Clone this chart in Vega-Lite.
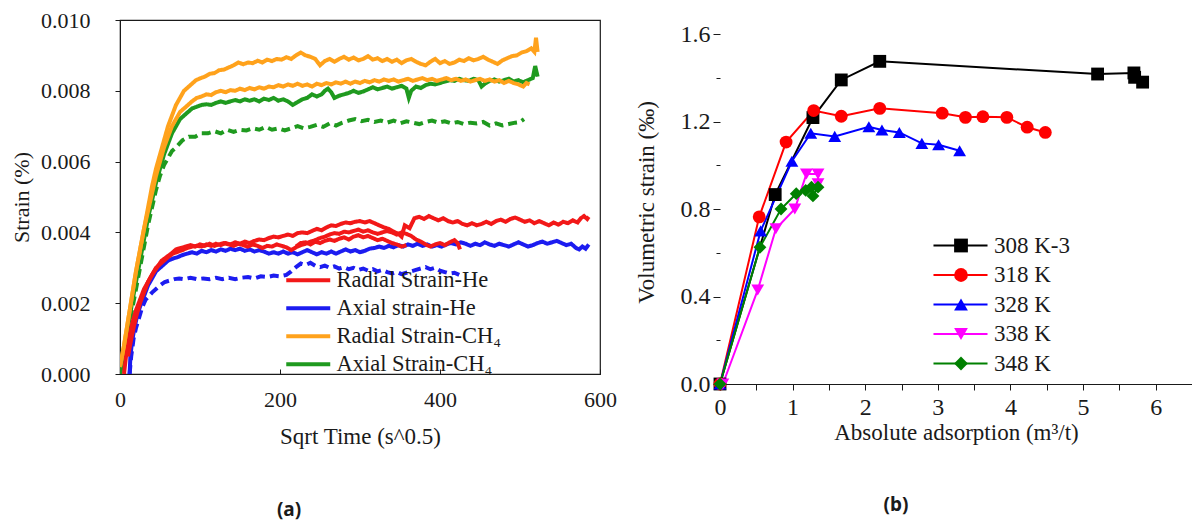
{
"$schema":"https://vega.github.io/schema/vega-lite/v6.json",
"background":"white",
"padding":{"left":9,"top":8,"right":0,"bottom":20},
"bounds":"flush",
"spacing":120,
"config":{"font":"Liberation Serif","axis":{"labelFont":"Liberation Serif","titleFont":"Liberation Serif","labelColor":"#1a1a1a","titleColor":"#1a1a1a","titleFontWeight":"normal","domainColor":"#1a1a1a","tickColor":"#1a1a1a","grid":false,"labelOverlap":false,"labelFlush":false},"legend":{"labelFont":"Liberation Serif","labelColor":"#1a1a1a"}},
"resolve":{"scale":{"color":"independent","shape":"independent","strokeDash":"independent"},"legend":{"color":"independent","shape":"independent"}},
"hconcat":[
{
"width":480,"height":354,
"view":{"stroke":"#1a1a1a","strokeWidth":1.2},
"title":{"text":"(a)","orient":"bottom","anchor":"middle","frame":"group","dx":-71,"offset":53,"font":"Noto Sans","fontWeight":"bold","fontSize":19,"color":"#1a1a1a"},
"data":{"values":[
{"c":"B2","x":12,"y":0},{"c":"B2","x":14,"y":0.0005},{"c":"B2","x":17,"y":0.001},{"c":"B2","x":20,"y":0.0013},{"c":"B2","x":24,"y":0.0016},{"c":"B2","x":28,"y":0.0019},{"c":"B2","x":32,"y":0.0021},{"c":"B2","x":36,"y":0.0022},{"c":"B2","x":40,"y":0.0023},{"c":"B2","x":45,"y":0.0024},{"c":"B2","x":50,"y":0.0025},{"c":"B2","x":56,"y":0.0026},{"c":"B2","x":62,"y":0.00264},{"c":"B2","x":68,"y":0.00268},{"c":"B2","x":74,"y":0.0027},{"c":"B2","x":80,"y":0.00268},{"c":"B2","x":88,"y":0.00272},{"c":"B2","x":96,"y":0.00268},{"c":"B2","x":104,"y":0.0027},{"c":"B2","x":112,"y":0.00268},{"c":"B2","x":120,"y":0.00272},{"c":"B2","x":128,"y":0.00268},{"c":"B2","x":136,"y":0.00272},{"c":"B2","x":144,"y":0.00268},{"c":"B2","x":152,"y":0.00272},{"c":"B2","x":160,"y":0.00274},{"c":"B2","x":168,"y":0.0027},{"c":"B2","x":176,"y":0.00276},{"c":"B2","x":184,"y":0.00274},{"c":"B2","x":192,"y":0.00278},{"c":"B2","x":200,"y":0.00276},{"c":"B2","x":208,"y":0.0028},{"c":"B2","x":214,"y":0.0029},{"c":"B2","x":220,"y":0.00302},{"c":"B2","x":226,"y":0.00312},{"c":"B2","x":232,"y":0.00308},{"c":"B2","x":238,"y":0.00314},{"c":"B2","x":244,"y":0.00306},{"c":"B2","x":250,"y":0.00302},{"c":"B2","x":256,"y":0.00306},{"c":"B2","x":262,"y":0.003},{"c":"B2","x":268,"y":0.00304},{"c":"B2","x":274,"y":0.00298},{"c":"B2","x":280,"y":0.00302},{"c":"B2","x":286,"y":0.00296},{"c":"B2","x":292,"y":0.003},{"c":"B2","x":298,"y":0.00294},{"c":"B2","x":304,"y":0.00298},{"c":"B2","x":310,"y":0.00292},{"c":"B2","x":316,"y":0.00296},{"c":"B2","x":322,"y":0.0029},{"c":"B2","x":328,"y":0.00294},{"c":"B2","x":334,"y":0.00288},{"c":"B2","x":340,"y":0.00284},{"c":"B2","x":346,"y":0.00288},{"c":"B2","x":352,"y":0.00282},{"c":"B2","x":358,"y":0.00286},{"c":"B2","x":364,"y":0.0029},{"c":"B2","x":370,"y":0.00294},{"c":"B2","x":376,"y":0.00298},{"c":"B2","x":382,"y":0.00302},{"c":"B2","x":388,"y":0.00296},{"c":"B2","x":394,"y":0.003},{"c":"B2","x":400,"y":0.00292},{"c":"B2","x":406,"y":0.00288},{"c":"B2","x":412,"y":0.00284},{"c":"B2","x":418,"y":0.00286},{"c":"B2","x":424,"y":0.0028},
{"c":"B1","x":12,"y":0},{"c":"B1","x":13,"y":0.0005},{"c":"B1","x":15,"y":0.0009},{"c":"B1","x":18,"y":0.0013},{"c":"B1","x":21,"y":0.0016},{"c":"B1","x":25,"y":0.0019},{"c":"B1","x":30,"y":0.0022},{"c":"B1","x":35,"y":0.0025},{"c":"B1","x":40,"y":0.0027},{"c":"B1","x":45,"y":0.0029},{"c":"B1","x":50,"y":0.003},{"c":"B1","x":55,"y":0.0031},{"c":"B1","x":60,"y":0.0032},{"c":"B1","x":66,"y":0.00326},{"c":"B1","x":72,"y":0.0033},{"c":"B1","x":78,"y":0.00336},{"c":"B1","x":84,"y":0.0034},{"c":"B1","x":90,"y":0.00344},{"c":"B1","x":96,"y":0.0034},{"c":"B1","x":102,"y":0.00348},{"c":"B1","x":108,"y":0.00344},{"c":"B1","x":114,"y":0.0035},{"c":"B1","x":120,"y":0.00346},{"c":"B1","x":126,"y":0.00352},{"c":"B1","x":132,"y":0.00348},{"c":"B1","x":138,"y":0.00354},{"c":"B1","x":144,"y":0.0035},{"c":"B1","x":150,"y":0.00354},{"c":"B1","x":156,"y":0.00348},{"c":"B1","x":162,"y":0.00352},{"c":"B1","x":168,"y":0.00346},{"c":"B1","x":174,"y":0.0035},{"c":"B1","x":180,"y":0.00346},{"c":"B1","x":186,"y":0.0034},{"c":"B1","x":192,"y":0.00344},{"c":"B1","x":198,"y":0.0034},{"c":"B1","x":204,"y":0.00346},{"c":"B1","x":210,"y":0.0034},{"c":"B1","x":216,"y":0.00344},{"c":"B1","x":222,"y":0.00338},{"c":"B1","x":228,"y":0.00344},{"c":"B1","x":234,"y":0.0035},{"c":"B1","x":240,"y":0.00344},{"c":"B1","x":246,"y":0.00338},{"c":"B1","x":252,"y":0.00344},{"c":"B1","x":258,"y":0.0034},{"c":"B1","x":264,"y":0.00346},{"c":"B1","x":270,"y":0.0034},{"c":"B1","x":276,"y":0.00346},{"c":"B1","x":282,"y":0.00352},{"c":"B1","x":288,"y":0.00346},{"c":"B1","x":294,"y":0.0035},{"c":"B1","x":300,"y":0.00344},{"c":"B1","x":306,"y":0.00348},{"c":"B1","x":312,"y":0.00354},{"c":"B1","x":318,"y":0.00356},{"c":"B1","x":324,"y":0.0036},{"c":"B1","x":330,"y":0.00356},{"c":"B1","x":336,"y":0.00362},{"c":"B1","x":342,"y":0.00358},{"c":"B1","x":348,"y":0.00364},{"c":"B1","x":354,"y":0.0036},{"c":"B1","x":360,"y":0.00366},{"c":"B1","x":366,"y":0.00362},{"c":"B1","x":372,"y":0.00368},{"c":"B1","x":378,"y":0.00362},{"c":"B1","x":384,"y":0.00366},{"c":"B1","x":390,"y":0.0036},{"c":"B1","x":396,"y":0.00364},{"c":"B1","x":402,"y":0.0036},{"c":"B1","x":408,"y":0.00366},{"c":"B1","x":414,"y":0.0037},{"c":"B1","x":420,"y":0.00366},{"c":"B1","x":426,"y":0.00372},{"c":"B1","x":432,"y":0.00368},{"c":"B1","x":438,"y":0.00362},{"c":"B1","x":444,"y":0.00368},{"c":"B1","x":450,"y":0.00364},{"c":"B1","x":456,"y":0.00372},{"c":"B1","x":462,"y":0.00366},{"c":"B1","x":468,"y":0.00362},{"c":"B1","x":474,"y":0.00368},{"c":"B1","x":480,"y":0.00364},{"c":"B1","x":486,"y":0.0036},{"c":"B1","x":492,"y":0.00366},{"c":"B1","x":498,"y":0.00372},{"c":"B1","x":504,"y":0.00366},{"c":"B1","x":510,"y":0.0036},{"c":"B1","x":516,"y":0.00364},{"c":"B1","x":522,"y":0.0037},{"c":"B1","x":528,"y":0.00374},{"c":"B1","x":534,"y":0.00368},{"c":"B1","x":540,"y":0.00372},{"c":"B1","x":546,"y":0.00376},{"c":"B1","x":552,"y":0.0037},{"c":"B1","x":558,"y":0.00364},{"c":"B1","x":564,"y":0.00368},{"c":"B1","x":570,"y":0.00356},{"c":"B1","x":574,"y":0.00352},{"c":"B1","x":578,"y":0.0036},{"c":"B1","x":582,"y":0.00354},{"c":"B1","x":586,"y":0.00366},
{"c":"G2","x":0,"y":0},{"c":"G2","x":5,"y":0.0006},{"c":"G2","x":10,"y":0.0012},{"c":"G2","x":15,"y":0.0018},{"c":"G2","x":20,"y":0.0024},{"c":"G2","x":25,"y":0.003},{"c":"G2","x":30,"y":0.0036},{"c":"G2","x":35,"y":0.0042},{"c":"G2","x":40,"y":0.0047},{"c":"G2","x":45,"y":0.0052},{"c":"G2","x":50,"y":0.0056},{"c":"G2","x":55,"y":0.0059},{"c":"G2","x":60,"y":0.0061},{"c":"G2","x":65,"y":0.0063},{"c":"G2","x":70,"y":0.0064},{"c":"G2","x":78,"y":0.0066},{"c":"G2","x":86,"y":0.0067},{"c":"G2","x":94,"y":0.0067},{"c":"G2","x":102,"y":0.0068},{"c":"G2","x":110,"y":0.0068},{"c":"G2","x":118,"y":0.00686},{"c":"G2","x":126,"y":0.0068},{"c":"G2","x":134,"y":0.0069},{"c":"G2","x":142,"y":0.00684},{"c":"G2","x":150,"y":0.0069},{"c":"G2","x":158,"y":0.00688},{"c":"G2","x":166,"y":0.00694},{"c":"G2","x":174,"y":0.0069},{"c":"G2","x":182,"y":0.00698},{"c":"G2","x":190,"y":0.0069},{"c":"G2","x":198,"y":0.00694},{"c":"G2","x":206,"y":0.00688},{"c":"G2","x":214,"y":0.00694},{"c":"G2","x":222,"y":0.007},{"c":"G2","x":230,"y":0.00694},{"c":"G2","x":238,"y":0.00698},{"c":"G2","x":246,"y":0.00704},{"c":"G2","x":254,"y":0.00698},{"c":"G2","x":262,"y":0.00708},{"c":"G2","x":270,"y":0.00702},{"c":"G2","x":278,"y":0.0071},{"c":"G2","x":286,"y":0.00716},{"c":"G2","x":294,"y":0.0072},{"c":"G2","x":302,"y":0.00714},{"c":"G2","x":310,"y":0.00718},{"c":"G2","x":318,"y":0.00712},{"c":"G2","x":326,"y":0.00716},{"c":"G2","x":334,"y":0.0071},{"c":"G2","x":342,"y":0.00716},{"c":"G2","x":350,"y":0.00708},{"c":"G2","x":358,"y":0.00714},{"c":"G2","x":366,"y":0.0071},{"c":"G2","x":374,"y":0.00706},{"c":"G2","x":382,"y":0.00712},{"c":"G2","x":390,"y":0.00716},{"c":"G2","x":398,"y":0.0071},{"c":"G2","x":406,"y":0.00714},{"c":"G2","x":414,"y":0.00708},{"c":"G2","x":422,"y":0.00712},{"c":"G2","x":430,"y":0.00706},{"c":"G2","x":438,"y":0.0071},{"c":"G2","x":446,"y":0.00708},{"c":"G2","x":454,"y":0.00712},{"c":"G2","x":462,"y":0.00702},{"c":"G2","x":470,"y":0.00708},{"c":"G2","x":478,"y":0.00702},{"c":"G2","x":486,"y":0.00706},{"c":"G2","x":494,"y":0.0071},{"c":"G2","x":500,"y":0.00712},{"c":"G2","x":505,"y":0.0072},
{"c":"G1","x":0,"y":0},{"c":"G1","x":5,"y":0.0006},{"c":"G1","x":10,"y":0.0013},{"c":"G1","x":15,"y":0.002},{"c":"G1","x":20,"y":0.0026},{"c":"G1","x":25,"y":0.0032},{"c":"G1","x":30,"y":0.0038},{"c":"G1","x":35,"y":0.0044},{"c":"G1","x":40,"y":0.0049},{"c":"G1","x":45,"y":0.0054},{"c":"G1","x":50,"y":0.0058},{"c":"G1","x":55,"y":0.0062},{"c":"G1","x":60,"y":0.0065},{"c":"G1","x":65,"y":0.0068},{"c":"G1","x":70,"y":0.007},{"c":"G1","x":75,"y":0.0072},{"c":"G1","x":80,"y":0.0073},{"c":"G1","x":85,"y":0.0074},{"c":"G1","x":90,"y":0.0075},{"c":"G1","x":96,"y":0.00755},{"c":"G1","x":102,"y":0.0076},{"c":"G1","x":108,"y":0.00762},{"c":"G1","x":114,"y":0.0076},{"c":"G1","x":120,"y":0.00766},{"c":"G1","x":126,"y":0.0077},{"c":"G1","x":132,"y":0.00766},{"c":"G1","x":138,"y":0.0077},{"c":"G1","x":144,"y":0.00774},{"c":"G1","x":150,"y":0.0077},{"c":"G1","x":156,"y":0.00776},{"c":"G1","x":162,"y":0.00772},{"c":"G1","x":168,"y":0.00776},{"c":"G1","x":174,"y":0.0077},{"c":"G1","x":180,"y":0.00778},{"c":"G1","x":186,"y":0.00774},{"c":"G1","x":192,"y":0.0078},{"c":"G1","x":198,"y":0.00772},{"c":"G1","x":204,"y":0.00776},{"c":"G1","x":210,"y":0.0077},{"c":"G1","x":216,"y":0.0076},{"c":"G1","x":222,"y":0.00768},{"c":"G1","x":228,"y":0.00776},{"c":"G1","x":234,"y":0.0078},{"c":"G1","x":240,"y":0.0079},{"c":"G1","x":246,"y":0.00784},{"c":"G1","x":252,"y":0.0079},{"c":"G1","x":256,"y":0.008},{"c":"G1","x":260,"y":0.00806},{"c":"G1","x":264,"y":0.00796},{"c":"G1","x":268,"y":0.0078},{"c":"G1","x":274,"y":0.00786},{"c":"G1","x":280,"y":0.0079},{"c":"G1","x":286,"y":0.00794},{"c":"G1","x":292,"y":0.008},{"c":"G1","x":298,"y":0.00794},{"c":"G1","x":304,"y":0.00798},{"c":"G1","x":310,"y":0.00804},{"c":"G1","x":316,"y":0.0081},{"c":"G1","x":322,"y":0.00804},{"c":"G1","x":328,"y":0.00808},{"c":"G1","x":334,"y":0.00812},{"c":"G1","x":340,"y":0.00806},{"c":"G1","x":346,"y":0.0081},{"c":"G1","x":352,"y":0.00814},{"c":"G1","x":358,"y":0.00806},{"c":"G1","x":361,"y":0.0078},{"c":"G1","x":364,"y":0.008},{"c":"G1","x":370,"y":0.00812},{"c":"G1","x":376,"y":0.00808},{"c":"G1","x":382,"y":0.00816},{"c":"G1","x":388,"y":0.0082},{"c":"G1","x":394,"y":0.00818},{"c":"G1","x":400,"y":0.00822},{"c":"G1","x":406,"y":0.00826},{"c":"G1","x":412,"y":0.0083},{"c":"G1","x":418,"y":0.00828},{"c":"G1","x":424,"y":0.00834},{"c":"G1","x":430,"y":0.0083},{"c":"G1","x":436,"y":0.00828},{"c":"G1","x":442,"y":0.00834},{"c":"G1","x":448,"y":0.0083},{"c":"G1","x":452,"y":0.00812},{"c":"G1","x":456,"y":0.0082},{"c":"G1","x":462,"y":0.00828},{"c":"G1","x":468,"y":0.00832},{"c":"G1","x":474,"y":0.00826},{"c":"G1","x":480,"y":0.0083},{"c":"G1","x":486,"y":0.00834},{"c":"G1","x":492,"y":0.00826},{"c":"G1","x":498,"y":0.0083},{"c":"G1","x":504,"y":0.00824},{"c":"G1","x":510,"y":0.0083},{"c":"G1","x":516,"y":0.00836},{"c":"G1","x":519,"y":0.0087},{"c":"G1","x":522,"y":0.0084},
{"c":"R3","x":220,"y":0.0036},{"c":"R3","x":226,"y":0.0037},{"c":"R3","x":232,"y":0.00372},{"c":"R3","x":238,"y":0.00366},{"c":"R3","x":244,"y":0.00374},{"c":"R3","x":250,"y":0.0037},{"c":"R3","x":256,"y":0.00376},{"c":"R3","x":262,"y":0.0038},{"c":"R3","x":268,"y":0.00376},{"c":"R3","x":274,"y":0.00382},{"c":"R3","x":280,"y":0.00386},{"c":"R3","x":286,"y":0.0038},{"c":"R3","x":292,"y":0.00388},{"c":"R3","x":298,"y":0.00392},{"c":"R3","x":304,"y":0.00386},{"c":"R3","x":310,"y":0.0039},{"c":"R3","x":316,"y":0.00384},{"c":"R3","x":322,"y":0.00378},{"c":"R3","x":328,"y":0.00382},{"c":"R3","x":334,"y":0.00376},{"c":"R3","x":340,"y":0.0037},{"c":"R3","x":346,"y":0.00366},{"c":"R3","x":352,"y":0.0036},{"c":"R3","x":358,"y":0.00364},
{"c":"R2","x":10,"y":0.0005},{"c":"R2","x":15,"y":0.0011},{"c":"R2","x":20,"y":0.0016},{"c":"R2","x":25,"y":0.002},{"c":"R2","x":30,"y":0.0023},{"c":"R2","x":35,"y":0.0026},{"c":"R2","x":40,"y":0.0028},{"c":"R2","x":46,"y":0.003},{"c":"R2","x":52,"y":0.0032},{"c":"R2","x":58,"y":0.0033},{"c":"R2","x":64,"y":0.0034},{"c":"R2","x":70,"y":0.00352},{"c":"R2","x":76,"y":0.00356},{"c":"R2","x":82,"y":0.0036},{"c":"R2","x":88,"y":0.00364},{"c":"R2","x":94,"y":0.0036},{"c":"R2","x":100,"y":0.00366},{"c":"R2","x":106,"y":0.00362},{"c":"R2","x":112,"y":0.00368},{"c":"R2","x":118,"y":0.00362},{"c":"R2","x":124,"y":0.00366},{"c":"R2","x":130,"y":0.0037},{"c":"R2","x":136,"y":0.00366},{"c":"R2","x":142,"y":0.00362},{"c":"R2","x":148,"y":0.00368},{"c":"R2","x":154,"y":0.00364},{"c":"R2","x":160,"y":0.0036},{"c":"R2","x":166,"y":0.00366},{"c":"R2","x":172,"y":0.00362},{"c":"R2","x":178,"y":0.00356},{"c":"R2","x":184,"y":0.00362},{"c":"R2","x":190,"y":0.0036},{"c":"R2","x":196,"y":0.00366},{"c":"R2","x":202,"y":0.00362},{"c":"R2","x":208,"y":0.00358},{"c":"R2","x":214,"y":0.0035},{"c":"R2","x":220,"y":0.00358},{"c":"R2","x":226,"y":0.00364},{"c":"R2","x":232,"y":0.00368},{"c":"R2","x":238,"y":0.00374},{"c":"R2","x":244,"y":0.00378},{"c":"R2","x":250,"y":0.00384},{"c":"R2","x":256,"y":0.00388},{"c":"R2","x":262,"y":0.00394},{"c":"R2","x":268,"y":0.00398},{"c":"R2","x":274,"y":0.00396},{"c":"R2","x":280,"y":0.00402},{"c":"R2","x":286,"y":0.004},{"c":"R2","x":292,"y":0.00404},{"c":"R2","x":298,"y":0.00408},{"c":"R2","x":304,"y":0.00402},{"c":"R2","x":310,"y":0.00406},{"c":"R2","x":316,"y":0.004},{"c":"R2","x":322,"y":0.00396},{"c":"R2","x":328,"y":0.004},{"c":"R2","x":334,"y":0.00404},{"c":"R2","x":340,"y":0.004},{"c":"R2","x":346,"y":0.00394},{"c":"R2","x":352,"y":0.004},{"c":"R2","x":358,"y":0.00396},{"c":"R2","x":364,"y":0.0039},{"c":"R2","x":370,"y":0.0038},{"c":"R2","x":376,"y":0.00374},{"c":"R2","x":382,"y":0.00366},{"c":"R2","x":388,"y":0.0036},{"c":"R2","x":394,"y":0.00366},{"c":"R2","x":400,"y":0.0037},{"c":"R2","x":406,"y":0.00364},{"c":"R2","x":412,"y":0.00372},{"c":"R2","x":418,"y":0.00378},{"c":"R2","x":422,"y":0.0037},{"c":"R2","x":425,"y":0.00352},
{"c":"R1","x":5,"y":0},{"c":"R1","x":8,"y":0.0006},{"c":"R1","x":12,"y":0.0011},{"c":"R1","x":16,"y":0.0015},{"c":"R1","x":20,"y":0.0018},{"c":"R1","x":25,"y":0.0021},{"c":"R1","x":30,"y":0.0024},{"c":"R1","x":35,"y":0.0026},{"c":"R1","x":40,"y":0.0028},{"c":"R1","x":45,"y":0.003},{"c":"R1","x":50,"y":0.0031},{"c":"R1","x":55,"y":0.0032},{"c":"R1","x":60,"y":0.0033},{"c":"R1","x":66,"y":0.0034},{"c":"R1","x":72,"y":0.00345},{"c":"R1","x":78,"y":0.0035},{"c":"R1","x":84,"y":0.00356},{"c":"R1","x":90,"y":0.0036},{"c":"R1","x":96,"y":0.00362},{"c":"R1","x":102,"y":0.0036},{"c":"R1","x":108,"y":0.00366},{"c":"R1","x":114,"y":0.00362},{"c":"R1","x":120,"y":0.00368},{"c":"R1","x":126,"y":0.00364},{"c":"R1","x":132,"y":0.0037},{"c":"R1","x":138,"y":0.00366},{"c":"R1","x":144,"y":0.00372},{"c":"R1","x":150,"y":0.00368},{"c":"R1","x":156,"y":0.00374},{"c":"R1","x":162,"y":0.0037},{"c":"R1","x":168,"y":0.00376},{"c":"R1","x":174,"y":0.0038},{"c":"R1","x":180,"y":0.00378},{"c":"R1","x":186,"y":0.00384},{"c":"R1","x":192,"y":0.00388},{"c":"R1","x":198,"y":0.00386},{"c":"R1","x":204,"y":0.0039},{"c":"R1","x":210,"y":0.00394},{"c":"R1","x":216,"y":0.0039},{"c":"R1","x":222,"y":0.00398},{"c":"R1","x":228,"y":0.004},{"c":"R1","x":234,"y":0.00398},{"c":"R1","x":240,"y":0.00404},{"c":"R1","x":246,"y":0.0041},{"c":"R1","x":252,"y":0.00406},{"c":"R1","x":258,"y":0.00414},{"c":"R1","x":264,"y":0.0042},{"c":"R1","x":270,"y":0.00418},{"c":"R1","x":276,"y":0.00424},{"c":"R1","x":282,"y":0.00428},{"c":"R1","x":288,"y":0.00426},{"c":"R1","x":294,"y":0.0043},{"c":"R1","x":300,"y":0.00432},{"c":"R1","x":306,"y":0.00428},{"c":"R1","x":312,"y":0.00432},{"c":"R1","x":318,"y":0.00426},{"c":"R1","x":324,"y":0.0042},{"c":"R1","x":330,"y":0.00414},{"c":"R1","x":336,"y":0.0041},{"c":"R1","x":342,"y":0.00402},{"c":"R1","x":348,"y":0.00396},{"c":"R1","x":352,"y":0.00388},{"c":"R1","x":356,"y":0.0042},{"c":"R1","x":362,"y":0.00412},{"c":"R1","x":368,"y":0.0044},{"c":"R1","x":374,"y":0.00444},{"c":"R1","x":380,"y":0.00438},{"c":"R1","x":386,"y":0.00446},{"c":"R1","x":392,"y":0.0044},{"c":"R1","x":398,"y":0.00434},{"c":"R1","x":404,"y":0.0044},{"c":"R1","x":410,"y":0.00432},{"c":"R1","x":416,"y":0.00428},{"c":"R1","x":422,"y":0.00432},{"c":"R1","x":428,"y":0.00424},{"c":"R1","x":434,"y":0.0042},{"c":"R1","x":440,"y":0.00426},{"c":"R1","x":446,"y":0.0042},{"c":"R1","x":452,"y":0.00424},{"c":"R1","x":458,"y":0.0043},{"c":"R1","x":464,"y":0.00424},{"c":"R1","x":470,"y":0.00432},{"c":"R1","x":476,"y":0.00436},{"c":"R1","x":482,"y":0.0043},{"c":"R1","x":488,"y":0.00438},{"c":"R1","x":494,"y":0.00442},{"c":"R1","x":500,"y":0.00436},{"c":"R1","x":506,"y":0.0043},{"c":"R1","x":512,"y":0.00434},{"c":"R1","x":518,"y":0.00426},{"c":"R1","x":524,"y":0.00432},{"c":"R1","x":530,"y":0.00426},{"c":"R1","x":536,"y":0.0042},{"c":"R1","x":542,"y":0.00428},{"c":"R1","x":548,"y":0.00422},{"c":"R1","x":554,"y":0.0043},{"c":"R1","x":560,"y":0.00426},{"c":"R1","x":566,"y":0.00434},{"c":"R1","x":572,"y":0.00428},{"c":"R1","x":576,"y":0.0044},{"c":"R1","x":580,"y":0.00446},{"c":"R1","x":584,"y":0.00438},{"c":"R1","x":586,"y":0.00444},
{"c":"O2","x":0,"y":0.0002},{"c":"O2","x":5,"y":0.0008},{"c":"O2","x":10,"y":0.0015},{"c":"O2","x":15,"y":0.0022},{"c":"O2","x":20,"y":0.0029},{"c":"O2","x":25,"y":0.0035},{"c":"O2","x":30,"y":0.0041},{"c":"O2","x":35,"y":0.0046},{"c":"O2","x":40,"y":0.0051},{"c":"O2","x":45,"y":0.0056},{"c":"O2","x":50,"y":0.006},{"c":"O2","x":55,"y":0.0064},{"c":"O2","x":60,"y":0.0067},{"c":"O2","x":65,"y":0.007},{"c":"O2","x":70,"y":0.0072},{"c":"O2","x":75,"y":0.0074},{"c":"O2","x":80,"y":0.0075},{"c":"O2","x":85,"y":0.0076},{"c":"O2","x":90,"y":0.0077},{"c":"O2","x":96,"y":0.0078},{"c":"O2","x":102,"y":0.00784},{"c":"O2","x":108,"y":0.0079},{"c":"O2","x":114,"y":0.00788},{"c":"O2","x":120,"y":0.00796},{"c":"O2","x":126,"y":0.008},{"c":"O2","x":132,"y":0.00796},{"c":"O2","x":138,"y":0.00802},{"c":"O2","x":144,"y":0.008},{"c":"O2","x":150,"y":0.00806},{"c":"O2","x":156,"y":0.00802},{"c":"O2","x":162,"y":0.00808},{"c":"O2","x":168,"y":0.00804},{"c":"O2","x":174,"y":0.0081},{"c":"O2","x":180,"y":0.00806},{"c":"O2","x":186,"y":0.00812},{"c":"O2","x":192,"y":0.0081},{"c":"O2","x":198,"y":0.00816},{"c":"O2","x":204,"y":0.00812},{"c":"O2","x":210,"y":0.00818},{"c":"O2","x":216,"y":0.00814},{"c":"O2","x":222,"y":0.0082},{"c":"O2","x":228,"y":0.00814},{"c":"O2","x":234,"y":0.00818},{"c":"O2","x":240,"y":0.00812},{"c":"O2","x":246,"y":0.0082},{"c":"O2","x":252,"y":0.00816},{"c":"O2","x":258,"y":0.00822},{"c":"O2","x":264,"y":0.00818},{"c":"O2","x":270,"y":0.00824},{"c":"O2","x":276,"y":0.0082},{"c":"O2","x":282,"y":0.00826},{"c":"O2","x":288,"y":0.0082},{"c":"O2","x":294,"y":0.00826},{"c":"O2","x":300,"y":0.00822},{"c":"O2","x":306,"y":0.00828},{"c":"O2","x":312,"y":0.00824},{"c":"O2","x":318,"y":0.0083},{"c":"O2","x":324,"y":0.00826},{"c":"O2","x":330,"y":0.00832},{"c":"O2","x":336,"y":0.00828},{"c":"O2","x":342,"y":0.00832},{"c":"O2","x":348,"y":0.00826},{"c":"O2","x":354,"y":0.0083},{"c":"O2","x":360,"y":0.00834},{"c":"O2","x":366,"y":0.00828},{"c":"O2","x":372,"y":0.00832},{"c":"O2","x":378,"y":0.00836},{"c":"O2","x":384,"y":0.0083},{"c":"O2","x":390,"y":0.00834},{"c":"O2","x":396,"y":0.00828},{"c":"O2","x":402,"y":0.00832},{"c":"O2","x":408,"y":0.00836},{"c":"O2","x":414,"y":0.0083},{"c":"O2","x":420,"y":0.00834},{"c":"O2","x":426,"y":0.00828},{"c":"O2","x":432,"y":0.00832},{"c":"O2","x":438,"y":0.00826},{"c":"O2","x":444,"y":0.0083},{"c":"O2","x":450,"y":0.00834},{"c":"O2","x":456,"y":0.00828},{"c":"O2","x":462,"y":0.00832},{"c":"O2","x":468,"y":0.00826},{"c":"O2","x":474,"y":0.0083},{"c":"O2","x":480,"y":0.00822},{"c":"O2","x":486,"y":0.00828},{"c":"O2","x":492,"y":0.00822},{"c":"O2","x":498,"y":0.00818},{"c":"O2","x":504,"y":0.00812},{"c":"O2","x":508,"y":0.00822},{"c":"O2","x":512,"y":0.00818},
{"c":"O1","x":0,"y":0.0002},{"c":"O1","x":5,"y":0.0008},{"c":"O1","x":10,"y":0.0015},{"c":"O1","x":15,"y":0.0022},{"c":"O1","x":20,"y":0.0029},{"c":"O1","x":25,"y":0.0035},{"c":"O1","x":30,"y":0.0041},{"c":"O1","x":35,"y":0.0047},{"c":"O1","x":40,"y":0.0053},{"c":"O1","x":45,"y":0.0058},{"c":"O1","x":50,"y":0.0062},{"c":"O1","x":55,"y":0.0066},{"c":"O1","x":60,"y":0.007},{"c":"O1","x":65,"y":0.0073},{"c":"O1","x":70,"y":0.0076},{"c":"O1","x":75,"y":0.0078},{"c":"O1","x":80,"y":0.008},{"c":"O1","x":85,"y":0.0081},{"c":"O1","x":90,"y":0.0082},{"c":"O1","x":95,"y":0.0083},{"c":"O1","x":100,"y":0.00835},{"c":"O1","x":106,"y":0.0084},{"c":"O1","x":112,"y":0.00848},{"c":"O1","x":118,"y":0.0085},{"c":"O1","x":124,"y":0.00858},{"c":"O1","x":130,"y":0.0086},{"c":"O1","x":136,"y":0.00866},{"c":"O1","x":142,"y":0.00872},{"c":"O1","x":148,"y":0.0088},{"c":"O1","x":154,"y":0.00875},{"c":"O1","x":160,"y":0.0088},{"c":"O1","x":166,"y":0.00878},{"c":"O1","x":172,"y":0.00885},{"c":"O1","x":178,"y":0.0088},{"c":"O1","x":184,"y":0.00888},{"c":"O1","x":190,"y":0.00884},{"c":"O1","x":196,"y":0.0089},{"c":"O1","x":202,"y":0.00888},{"c":"O1","x":208,"y":0.00895},{"c":"O1","x":214,"y":0.0089},{"c":"O1","x":220,"y":0.009},{"c":"O1","x":226,"y":0.00908},{"c":"O1","x":232,"y":0.009},{"c":"O1","x":238,"y":0.00896},{"c":"O1","x":244,"y":0.0089},{"c":"O1","x":250,"y":0.00872},{"c":"O1","x":256,"y":0.00884},{"c":"O1","x":262,"y":0.0089},{"c":"O1","x":268,"y":0.00882},{"c":"O1","x":274,"y":0.0089},{"c":"O1","x":280,"y":0.00896},{"c":"O1","x":286,"y":0.00888},{"c":"O1","x":292,"y":0.00894},{"c":"O1","x":298,"y":0.00886},{"c":"O1","x":304,"y":0.0089},{"c":"O1","x":310,"y":0.00898},{"c":"O1","x":316,"y":0.00888},{"c":"O1","x":322,"y":0.00892},{"c":"O1","x":328,"y":0.00884},{"c":"O1","x":334,"y":0.0089},{"c":"O1","x":340,"y":0.00882},{"c":"O1","x":346,"y":0.00888},{"c":"O1","x":352,"y":0.00878},{"c":"O1","x":358,"y":0.00886},{"c":"O1","x":364,"y":0.0089},{"c":"O1","x":370,"y":0.00882},{"c":"O1","x":376,"y":0.00876},{"c":"O1","x":382,"y":0.00872},{"c":"O1","x":388,"y":0.00882},{"c":"O1","x":394,"y":0.0089},{"c":"O1","x":400,"y":0.00878},{"c":"O1","x":406,"y":0.00884},{"c":"O1","x":412,"y":0.00876},{"c":"O1","x":418,"y":0.0088},{"c":"O1","x":424,"y":0.00888},{"c":"O1","x":430,"y":0.00884},{"c":"O1","x":436,"y":0.00892},{"c":"O1","x":442,"y":0.00886},{"c":"O1","x":448,"y":0.0089},{"c":"O1","x":454,"y":0.00896},{"c":"O1","x":460,"y":0.00888},{"c":"O1","x":466,"y":0.00882},{"c":"O1","x":472,"y":0.00876},{"c":"O1","x":478,"y":0.00886},{"c":"O1","x":484,"y":0.00892},{"c":"O1","x":490,"y":0.00898},{"c":"O1","x":496,"y":0.009},{"c":"O1","x":502,"y":0.00908},{"c":"O1","x":508,"y":0.00912},{"c":"O1","x":514,"y":0.0092},{"c":"O1","x":518,"y":0.0091},{"c":"O1","x":520,"y":0.0095},{"c":"O1","x":522,"y":0.0091}
]},
"transform":[{"lookup":"c","from":{"data":{"values":[
{"c":"B2","s":"Axial strain-He","d":"dashed"},{"c":"B1","s":"Axial strain-He","d":"solid"},
{"c":"G2","s":"Axial Strain-CH₄","d":"dashed"},{"c":"G1","s":"Axial Strain-CH₄","d":"solid"},
{"c":"R3","s":"Radial Strain-He","d":"solid"},{"c":"R2","s":"Radial Strain-He","d":"solid"},{"c":"R1","s":"Radial Strain-He","d":"solid"},
{"c":"O2","s":"Radial Strain-CH₄","d":"solid"},{"c":"O1","s":"Radial Strain-CH₄","d":"solid"}]},"key":"c","fields":["s","d"]}}],
"mark":{"type":"line","strokeWidth":4,"clip":true},
"encoding":{
"x":{"field":"x","type":"quantitative","scale":{"domain":[0,600],"nice":false},"axis":{"values":[0,200,400,600],"title":"Sqrt Time (s^0.5)","labelFont":"Liberation Serif","titleFont":"Liberation Serif","labelFontSize":22,"titleFontSize":23,"tickSize":-5,"labelPadding":20,"titlePadding":15}},
"y":{"field":"y","type":"quantitative","scale":{"domain":[0,0.01],"nice":false},"axis":{"values":[0,0.002,0.004,0.006,0.008,0.01],"format":".3f","title":"Strain (%)","labelFont":"Liberation Serif","titleFont":"Liberation Serif","labelFontSize":22,"titleFontSize":22,"tickSize":5,"labelPadding":25,"titlePadding":7}},
"color":{"field":"s","type":"nominal","scale":{"domain":["Radial Strain-He","Axial strain-He","Radial Strain-CH₄","Axial Strain-CH₄"],"range":["#f21818","#1c1cf0","#ffa21c","#1f9a1f"]},
"legend":{"orient":"none","legendX":177,"legendY":249,"title":null,"symbolType":"M-3,0H3","symbolSize":215,"symbolStrokeWidth":4,"labelFontSize":22.5,"labelOffset":17,"rowPadding":5,"labelLimit":400}},
"strokeDash":{"field":"d","type":"nominal","scale":{"domain":["solid","dashed"],"range":[[1,0],[9,5]]},"legend":null},
"detail":{"field":"c"}
}
},
{
"width":472,"height":364,
"view":{"stroke":null},
"title":{"text":"(b)","orient":"bottom","anchor":"middle","frame":"group","dx":-60,"offset":52,"font":"Noto Sans","fontWeight":"bold","fontSize":19,"color":"#1a1a1a"},
"data":{"values":[
{"s":"308 K-3","i":0,"x":0,"y":0},{"s":"308 K-3","i":1,"x":0.76,"y":0.866},{"s":"308 K-3","i":2,"x":1.28,"y":1.218},{"s":"308 K-3","i":3,"x":1.67,"y":1.39},{"s":"308 K-3","i":4,"x":2.2,"y":1.475},{"s":"308 K-3","i":5,"x":5.2,"y":1.417},{"s":"308 K-3","i":6,"x":5.7,"y":1.422},{"s":"308 K-3","i":7,"x":5.71,"y":1.402},{"s":"308 K-3","i":8,"x":5.82,"y":1.38},
{"s":"318 K","i":0,"x":0,"y":0},{"s":"318 K","i":1,"x":0.54,"y":0.764},{"s":"318 K","i":2,"x":0.91,"y":1.106},{"s":"318 K","i":3,"x":1.29,"y":1.25},{"s":"318 K","i":4,"x":1.67,"y":1.224},{"s":"318 K","i":5,"x":2.2,"y":1.26},{"s":"318 K","i":6,"x":3.06,"y":1.238},{"s":"318 K","i":7,"x":3.38,"y":1.219},{"s":"318 K","i":8,"x":3.62,"y":1.222},{"s":"318 K","i":9,"x":3.95,"y":1.219},{"s":"318 K","i":10,"x":4.23,"y":1.174},{"s":"318 K","i":11,"x":4.48,"y":1.15},
{"s":"328 K","i":0,"x":0,"y":0},{"s":"328 K","i":1,"x":0.56,"y":0.7},{"s":"328 K","i":2,"x":0.99,"y":1.018},{"s":"328 K","i":3,"x":1.25,"y":1.146},{"s":"328 K","i":4,"x":1.58,"y":1.132},{"s":"328 K","i":5,"x":2.05,"y":1.176},{"s":"328 K","i":6,"x":2.23,"y":1.161},{"s":"328 K","i":7,"x":2.47,"y":1.15},{"s":"328 K","i":8,"x":2.78,"y":1.1},{"s":"328 K","i":9,"x":3.01,"y":1.094},{"s":"328 K","i":10,"x":3.3,"y":1.066},
{"s":"338 K","i":0,"x":0.04,"y":0},{"s":"338 K","i":1,"x":0.52,"y":0.43},{"s":"338 K","i":2,"x":0.77,"y":0.71},{"s":"338 K","i":3,"x":1.03,"y":0.8},{"s":"338 K","i":4,"x":1.19,"y":0.96},{"s":"338 K","i":5,"x":1.35,"y":0.96},{"s":"338 K","i":6,"x":1.35,"y":0.915},
{"s":"348 K","i":0,"x":0,"y":0},{"s":"348 K","i":1,"x":0.55,"y":0.625},{"s":"348 K","i":2,"x":0.84,"y":0.8},{"s":"348 K","i":3,"x":1.05,"y":0.87},{"s":"348 K","i":4,"x":1.18,"y":0.885},{"s":"348 K","i":5,"x":1.26,"y":0.9},{"s":"348 K","i":6,"x":1.28,"y":0.86},{"s":"348 K","i":7,"x":1.35,"y":0.9}
]},
"encoding":{
"x":{"field":"x","type":"quantitative","scale":{"domain":[0,6.5],"nice":false},"axis":{"values":[0,0.5,1,1.5,2,2.5,3,3.5,4,4.5,5,5.5,6],"labelExpr":"datum.value % 1 === 0 ? format(datum.value, 'd') : ''","title":"Absolute adsorption (m³/t)","labelFont":"Liberation Serif","titleFont":"Liberation Serif","labelFontSize":24,"titleFontSize":23,"tickSize":6,"labelPadding":5,"titlePadding":2}},
"y":{"field":"y","type":"quantitative","scale":{"domain":[0,1.664],"nice":false},"axis":{"values":[0,0.2,0.4,0.6,0.8,1,1.2,1.4,1.6],"labelExpr":"round(datum.value*10) % 4 === 0 ? format(datum.value, '.1f') : ''","title":"Volumetric strain (‰)","labelFont":"Liberation Serif","titleFont":"Liberation Serif","labelFontSize":24,"titleFontSize":23,"tickSize":{"condition":{"test":"round(datum.value*10) % 4 === 0","value":7},"value":4},"labelPadding":3,"titlePadding":22,"domain":false}}
},
"resolve":{"legend":{"color":"independent","shape":"independent"}},
"layer":[
{"mark":{"type":"line","strokeWidth":2},"encoding":{"order":{"field":"i","type":"quantitative"},
"color":{"field":"s","type":"nominal","scale":{"domain":["308 K-3","318 K","328 K","338 K","348 K"],"range":["#000000","#ff0000","#0000ff","#ff00ff","#008000"]},
"legend":{"orient":"none","legendX":229,"legendY":214,"title":null,"symbolType":"M-3.86,0H3.86","symbolSize":196,"symbolStrokeWidth":2,"labelFontSize":23,"labelOffset":22,"rowPadding":5.5,"labelLimit":300}}}},
{"mark":{"type":"point","filled":true,"size":165,"opacity":1},"encoding":{
"color":{"field":"s","type":"nominal","legend":{"orient":"none","legendX":229.5,"legendY":214,"title":null,"symbolSize":190,"labelFontSize":23,"labelOffset":22,"rowPadding":5.5,"labelLimit":300,"labelOpacity":0,"symbolOpacity":1}},
"shape":{"field":"s","type":"nominal","scale":{"domain":["308 K-3","318 K","328 K","338 K","348 K"],"range":["square","circle","triangle-up","triangle-down","diamond"]},"legend":{"orient":"none","legendX":229.5,"legendY":214,"title":null,"symbolSize":190,"labelFontSize":23,"labelOffset":22,"rowPadding":5.5,"labelLimit":300,"labelOpacity":0,"symbolOpacity":1}}}},
{"data":{"values":[{}]},"mark":{"type":"rule","color":"#1a1a1a","strokeWidth":1},"encoding":{"x":{"datum":0},"y":{"datum":0},"y2":{"datum":1.6}}}
]
}
]
}
